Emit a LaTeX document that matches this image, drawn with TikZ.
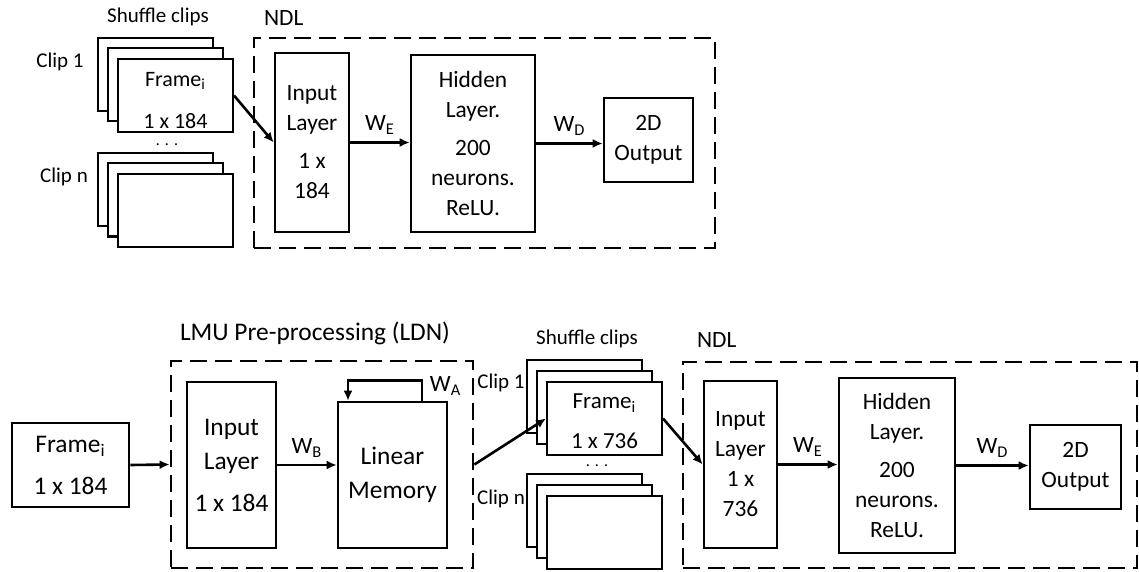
\documentclass[tikz,border=0pt]{standalone}
\usepackage{fontspec}
\setmainfont{Carlito}
\usetikzlibrary{arrows.meta, positioning, calc}

\tikzset{
  layerbox/.style={draw, line width=1.3pt, align=center, inner sep=0pt, fill=white},
  clipbox/.style={draw, line width=1pt, fill=white, minimum width=57.5pt, minimum height=36.5pt, inner sep=0pt},
  groupbox/.style={draw, dash pattern=on 8.5pt off 4pt, line width=1.4pt},
  conn/.style={line width=1.3pt, -{Latex[length=5pt,width=4.5pt]}},
  ftop/.style={font=\fontsize{11.7}{15}\selectfont},
  flmu/.style={font=\fontsize{12.7}{17}\selectfont},
  fsmall/.style={font=\fontsize{10.5}{12}\selectfont},
  fdots/.style={font=\fontsize{8}{8}\selectfont, inner sep=0pt},
}

\begin{document}
\begin{tikzpicture}[x=0.5pt, y=-0.5pt]
  \useasboundingbox (0,0) rectangle (1139,572);

  % ---------------- top row ----------------
  % Shuffled clips
  \node[fsmall] (shufa) at (158,17) {Shuffle clips};
  \node[fsmall] (cliplbla) at (60,62) {Clip 1};
  \node[fsmall] (cliplblb) at (64,177) {Clip n};
  \node[clipbox] (c1a) at (155.5,74.5) {};
  \node[clipbox] (c1b) at (165.5,85) {};
  \node[clipbox] (c1f) at (175.5,95.5) {};
  \node[align=center, inner sep=0pt, font=\fontsize{11}{13}\selectfont] (fr1) at ([yshift=-2.5pt]c1f.center)
    {Frame\textsubscript{i}\\[8pt]1 x 184};
  \node[fdots] (dotsa) at (167,145) {.\hspace{2.5pt}.\hspace{2.5pt}.};
  \node[clipbox] (c2a) at (155.5,189.5) {};
  \node[clipbox] (c2b) at (165.5,200) {};
  \node[clipbox] (c2f) at (175.5,210.5) {};

  % NDL block
  \node[groupbox, minimum width=230.5pt, minimum height=105pt] (ndla) at (484.5,143) {};
  \node[ftop, anchor=west] (ndlalbl) at (257,18) {NDL};
  \node[layerbox, ftop, minimum width=37pt, minimum height=89.5pt] (in1) at (312,142.5)
    {Input\\Layer\\[4pt]1 x\\184};
  \node[layerbox, ftop, minimum width=62pt, minimum height=88.5pt] (hid1) at (473,143.5)
    {Hidden\\Layer.\\[4pt]200\\neurons.\\ReLU.};
  \node[layerbox, ftop, minimum width=44.5pt, minimum height=42pt] (out1) at (648.5,140)
    {2D\\Output};

  \draw[conn] (c1f.east) -- (in1.west);
  \draw[conn] (in1.east) -- (in1.east -| hid1.west)
    node[midway, above, ftop] (wea) {W\textsubscript{E}};
  \draw[conn] (hid1.east) -- (hid1.east -| out1.west)
    node[midway, above, ftop] (wda) {W\textsubscript{D}};

  % ---------------- bottom row ----------------
  \node[layerbox, flmu, minimum width=58.5pt, minimum height=42pt] (frm) at (70.5,465)
    {Frame\textsubscript{i}\\[4pt]1 x 184};

  % LMU pre-processing block
  \node[groupbox, minimum width=151pt, minimum height=103.5pt] (lmu) at (322,464.5) {};
  \node[flmu] (lmulbl) at (315,333) {LMU Pre-processing (LDN)};
  \node[layerbox, flmu, minimum width=44.5pt, minimum height=83pt] (in2) at (231.5,465)
    {Input\\Layer\\[4pt]1 x 184};
  \node[layerbox, flmu, minimum width=54.5pt, minimum height=73pt] (mem) at (392.5,475)
    {Linear\\Memory};

  \draw[conn] (frm.east) -- (lmu.west);
  \draw[conn] (in2.east) -- (in2.east -| mem.west)
    node[midway, above, ftop] (wb) {W\textsubscript{B}};
  \draw[conn] ([xshift=14.75pt]mem.north) -- ++(0,10pt)
    node[pos=0.75, right, ftop] (wa) {W\textsubscript{A}}
    -| ([xshift=-22.25pt]mem.north);

  % Shuffled clips
  \node[fsmall] (shufb) at (587,339) {Shuffle clips};
  \node[fsmall] (cliplblc) at (501,383) {Clip 1};
  \node[fsmall] (cliplbld) at (501,499) {Clip n};
  \node[clipbox] (c3a) at (584.5,396.5) {};
  \node[clipbox] (c3b) at (594.5,407.5) {};
  \node[clipbox] (c3f) at (604.5,418.5) {};
  \node[align=center, inner sep=0pt, font=\fontsize{11.5}{13}\selectfont] (fr3) at ([yshift=-1.5pt]c3f.center)
    {Frame\textsubscript{i}\\[7pt]1 x 736};
  \node[fdots] (dotsb) at (597,466) {.\hspace{2.5pt}.\hspace{2.5pt}.};
  \node[clipbox] (c4a) at (584.5,510.5) {};
  \node[clipbox] (c4b) at (594.5,521.5) {};
  \node[clipbox] (c4f) at (604.5,532.5) {};

  % NDL block
  \node[groupbox, minimum width=227pt, minimum height=103pt] (ndlb) at (910,465) {};
  \node[ftop, anchor=west] (ndlblbl) at (690,340) {NDL};
  \node[layerbox, ftop, minimum width=36.5pt, minimum height=83.5pt] (in3) at (740.5,464.5)
    {Input\\Layer\\1 x\\736};
  \node[layerbox, ftop, minimum width=58pt, minimum height=87.5pt] (hid3) at (897,465.5)
    {Hidden\\Layer.\\[4pt]200\\neurons.\\ReLU.};
  \node[layerbox, ftop, minimum width=45.5pt, minimum height=42pt] (out3) at (1075.5,467)
    {2D\\Output};

  \draw[conn] (lmu.east) -- (c3f.west);
  \draw[conn] (c3f.east) -- (in3.west);
  \draw[conn] (in3.east) -- (in3.east -| hid3.west)
    node[midway, above, ftop] (web) {W\textsubscript{E}};
  \draw[conn] (hid3.east) -- (hid3.east -| out3.west)
    node[midway, above, ftop] (wdb) {W\textsubscript{D}};
\end{tikzpicture}
\end{document}
